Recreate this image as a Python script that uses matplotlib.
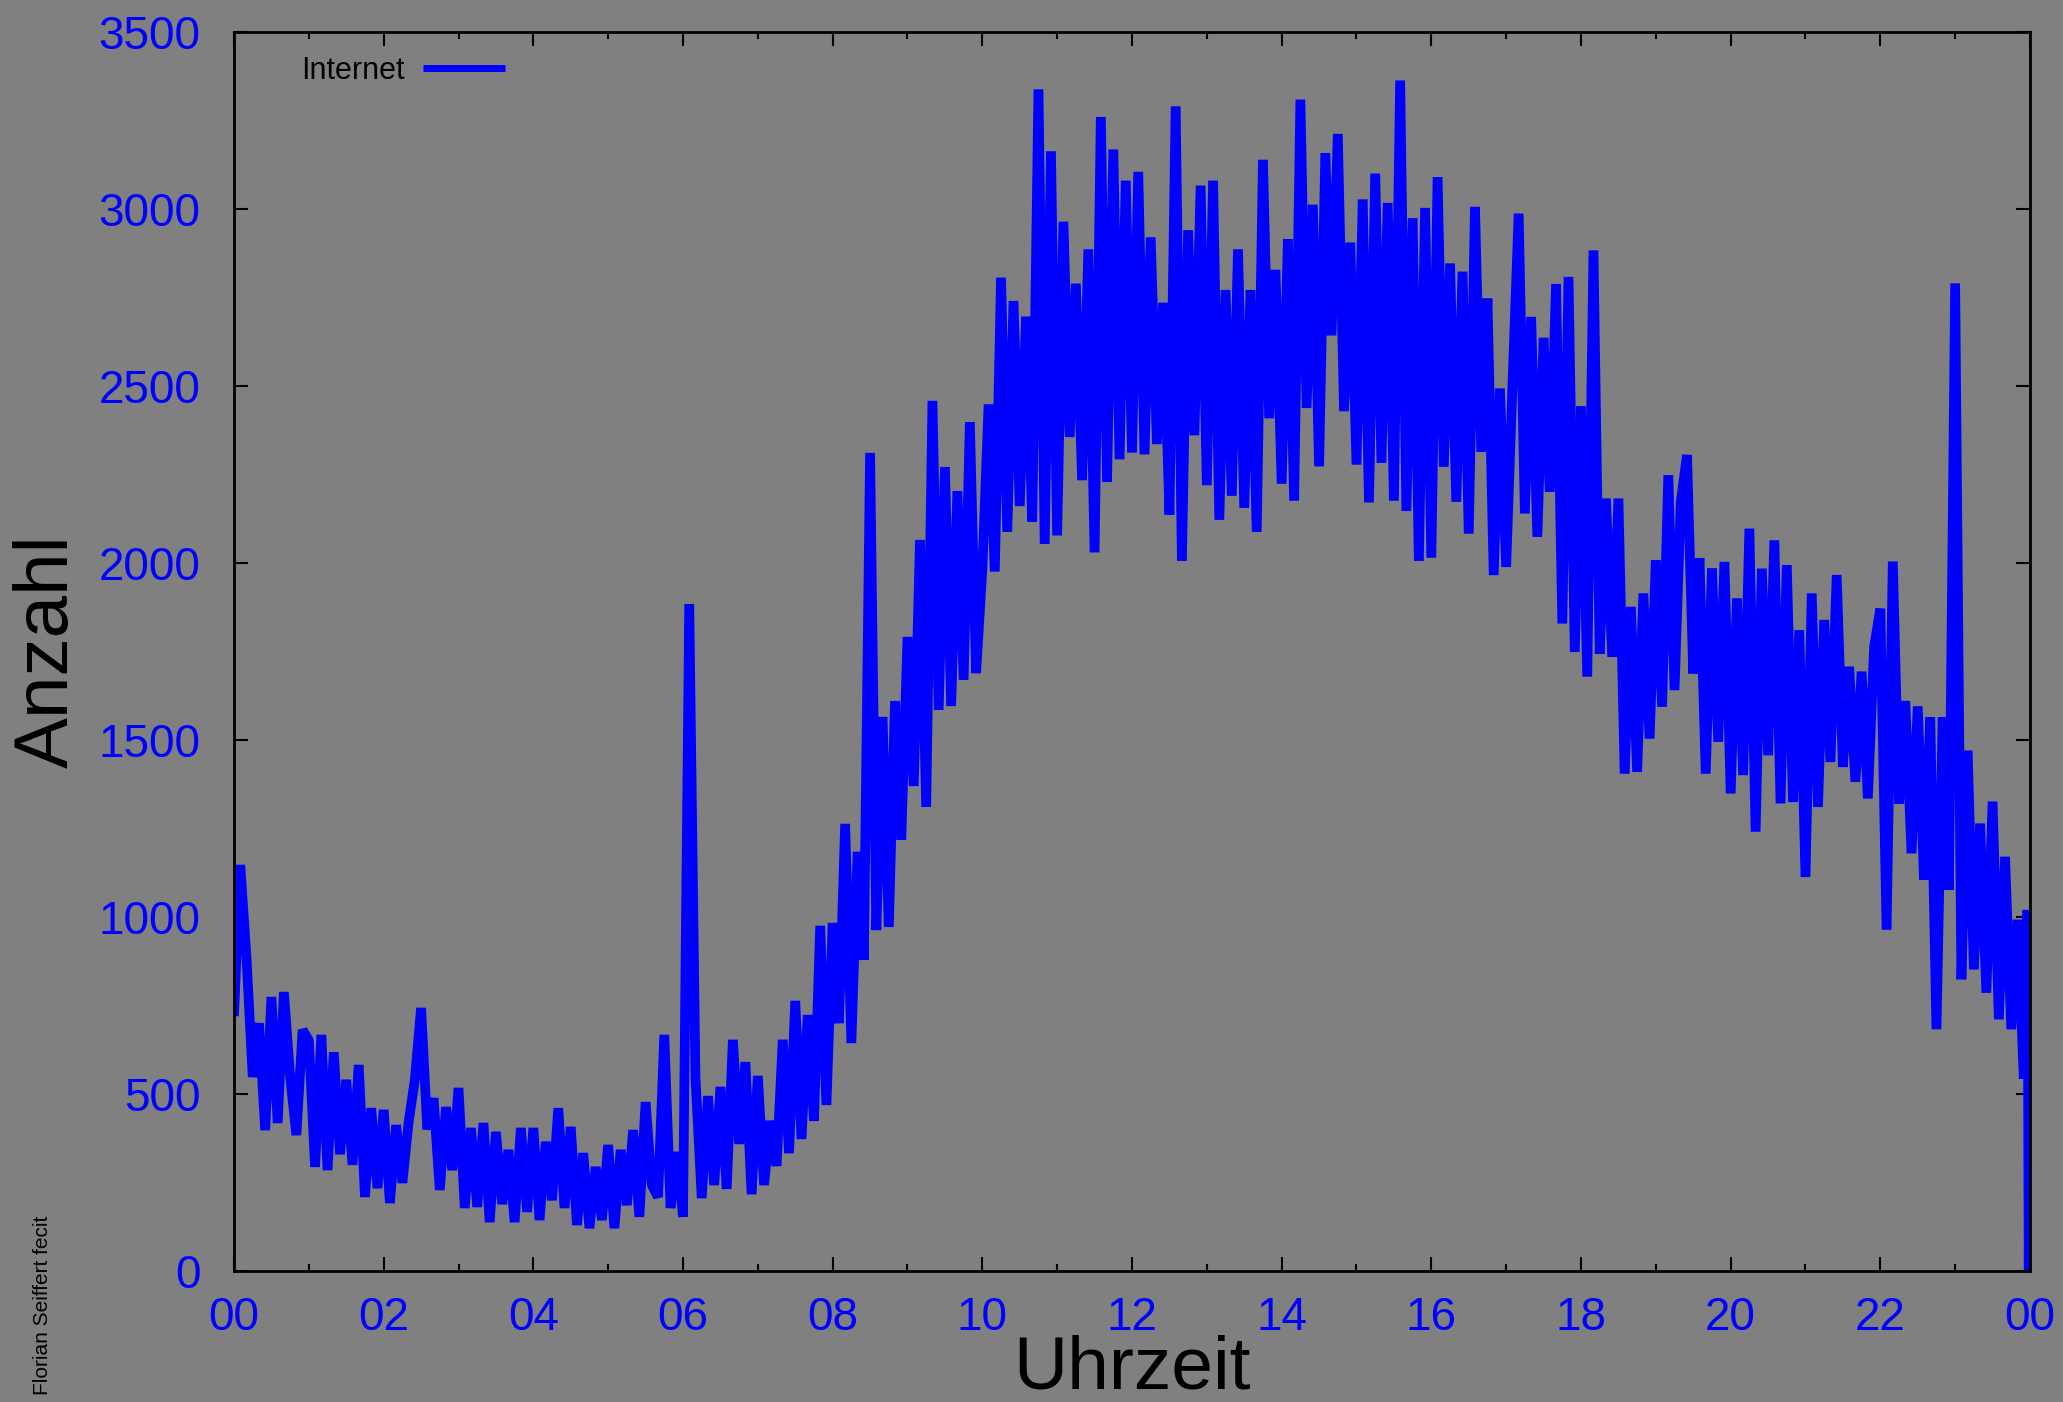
import numpy as np
import matplotlib.pyplot as plt
from matplotlib.ticker import MultipleLocator

h00 = [720, 1147, 887, 548, 700, 398, 774, 418, 788, 550, 384, 681]
h01 = [652, 294, 667, 285, 618, 330, 540, 300, 582, 209, 460, 234]
h02 = [455, 192, 412, 249, 421, 540, 743, 400, 488, 229, 463, 285]
h03 = [517, 178, 404, 181, 418, 138, 393, 189, 342, 138, 404, 167]
h04 = [404, 144, 365, 200, 460, 178, 407, 130, 333, 121, 294, 144]
h05 = [356, 121, 342, 186, 398, 153, 477, 243, 209, 667, 178, 336]
h06 = [153, 1884, 545, 206, 494, 243, 520, 232, 653, 359, 590, 217]
h07 = [551, 243, 424, 297, 653, 333, 763, 373, 723, 424, 975, 469]
h08 = [983, 700, 1263, 644, 1184, 879, 2311, 963, 1565, 972, 1610, 1218]
h09 = [1791, 1370, 2065, 1311, 2458, 1585, 2271, 1596, 2203, 1670, 2398, 1689]
h10 = [1981, 2448, 1976, 2806, 2088, 2740, 2161, 2696, 2117, 3338, 2054, 3163]
h11 = [2078, 2964, 2356, 2789, 2234, 2886, 2030, 3260, 2229, 3168, 2293, 3080]
h12 = [2312, 3105, 2307, 2920, 2336, 2735, 2137, 3290, 2006, 2940, 2361, 3066]
h13 = [2220, 3080, 2122, 2771, 2190, 2886, 2156, 2771, 2088, 3139, 2409, 2828]
h14 = [2224, 2915, 2176, 3309, 2438, 3012, 2273, 3158, 2643, 3212, 2429, 2905]
h15 = [2278, 3027, 2171, 3100, 2283, 3017, 2176, 3363, 2147, 2974, 2006, 3003]
h16 = [2015, 3090, 2272, 2846, 2173, 2823, 2083, 3006, 2314, 2747, 1966, 2493]
h17 = [1989, 2498, 2987, 2140, 2695, 2074, 2636, 2201, 2788, 1829, 2808, 1749]
h18 = [2443, 1679, 2883, 1744, 2182, 1735, 2182, 1405, 1876, 1410, 1914, 1504]
h19 = [2008, 1594, 2248, 1641, 2173, 2305, 1688, 2013, 1405, 1985, 1495, 2003]
h20 = [1349, 1900, 1401, 2097, 1241, 1984, 1457, 2064, 1321, 1994, 1325, 1810]
h21 = [1113, 1914, 1311, 1839, 1438, 1966, 1424, 1707, 1382, 1693, 1335, 1763]
h22 = [1871, 964, 2004, 1320, 1610, 1180, 1595, 1105, 1564, 683, 1564, 1077]
h23 = [2790, 824, 1470, 852, 1264, 786, 1326, 711, 1170, 683, 992, 543]
# letzte Minuten vor Mitternacht
tail_minutes = [1438, 1439, 1440]
tail_values = [1020, 0, 860]

hours = [h00, h01, h02, h03, h04, h05, h06, h07, h08, h09, h10, h11,
         h12, h13, h14, h15, h16, h17, h18, h19, h20, h21, h22, h23]
xtick_labels = ["00", "02", "04", "06", "08", "10", "12",
                "14", "16", "18", "20", "22", "00"]

values = [v for h in hours for v in h] + tail_values
minutes = list(np.arange(len(values) - len(tail_values)) * 5) + tail_minutes

plt.rcParams['font.family'] = ['Liberation Sans', 'DejaVu Sans']

W, H = 2063, 1402
fig = plt.figure(figsize=(W / 100, H / 100), dpi=100, facecolor="#808080")
ax = fig.add_axes([234 / W, 1 - 1271 / H, (2030 - 234) / W, (1271 - 32) / H])
ax.set_facecolor("#808080")

ax.plot(minutes, values, color="#0000ff", linewidth=7, solid_joinstyle="bevel",
        solid_capstyle="butt", label="Internet")

ax.set_xlim(0, 1440)
ax.set_ylim(0, 3500)
ax.set_xticks(np.arange(0, 1441, 120))
ax.set_xticklabels(xtick_labels)
ax.xaxis.set_minor_locator(MultipleLocator(60))
ax.yaxis.set_major_locator(MultipleLocator(500))

ax.tick_params(axis="both", which="both", direction="in", top=True, right=True,
               colors="black", labelcolor="#0000ff", labelsize=33, width=1.5)
ax.tick_params(axis="both", which="major", length=10)
ax.tick_params(axis="both", which="minor", length=5)
ax.tick_params(axis="x", which="major", pad=18)
ax.tick_params(axis="y", which="major", pad=24)
for s in ax.spines.values():
    s.set_linewidth(2)
    s.set_color("black")

ax.set_xlabel("Uhrzeit", fontsize=54, color="black")
ax.xaxis.set_label_coords(0.5, -0.051)
ax.set_ylabel("Anzahl", fontsize=55, color="black", va="center")
ax.yaxis.set_label_coords(-0.1036, 0.5)

leg = ax.legend(loc="upper left", frameon=False, fontsize=22, markerfirst=False,
                handlelength=2.7, handletextpad=0.6, borderpad=0, borderaxespad=0,
                bbox_to_anchor=(0.0373, 0.981))
leg.get_lines()[0].set_linewidth(5)

fig.text(43 / W, 1 - 1305 / H, "Florian Seiffert fecit", rotation=90,
         fontsize=15, color="black", ha="center", va="center")

fig.savefig("out.png", dpi=100, facecolor=fig.get_facecolor())
